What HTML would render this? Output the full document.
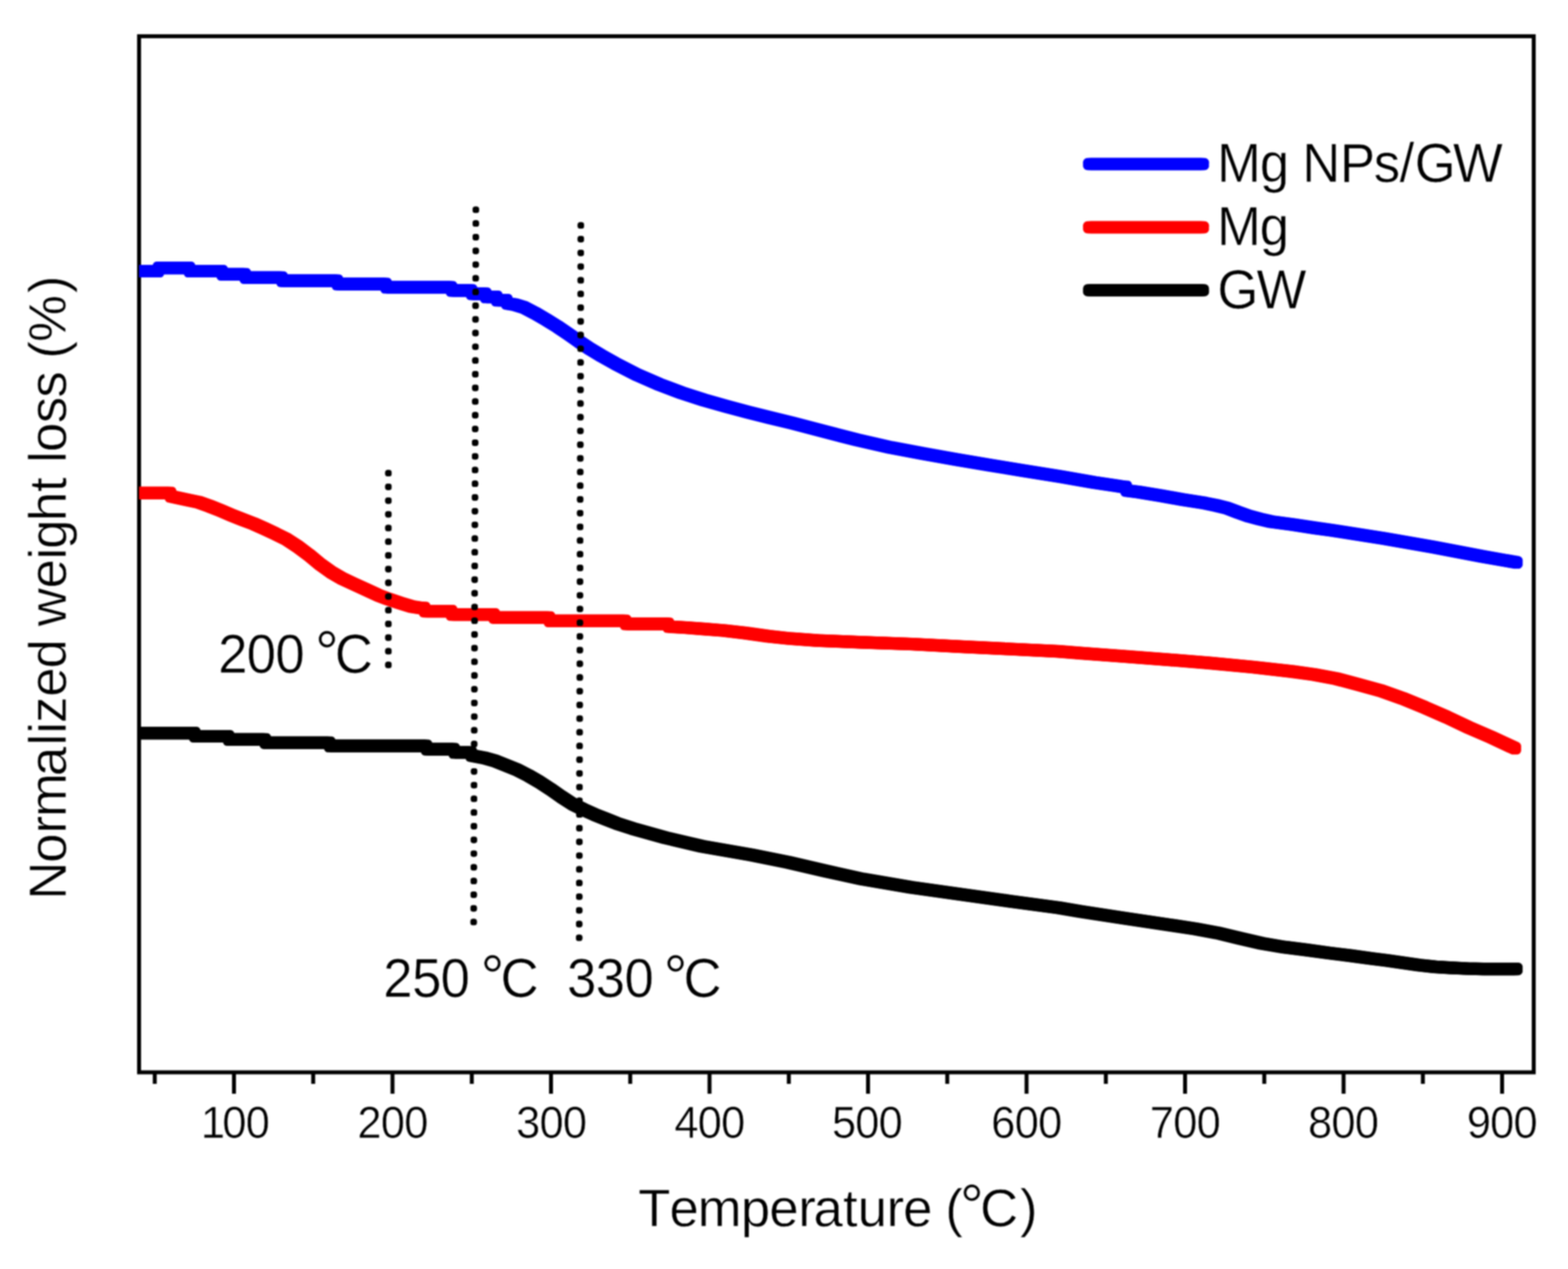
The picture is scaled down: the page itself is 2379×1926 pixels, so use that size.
<!DOCTYPE html>
<html lang="en">
<head>
<meta charset="utf-8">
<title>TGA curves: Mg NPs/GW, Mg, GW</title>
<style>
html,body{margin:0;padding:0;background:#fff;}
body{width:2379px;height:1926px;}
svg{display:block;filter:blur(0.8px);}
text{font-family:"Liberation Sans",Arial,Helvetica,sans-serif;fill:#000;font-kerning:none;stroke:#fff;stroke-width:0.7;paint-order:fill stroke;}
</style>
</head>
<body>
<svg width="2379" height="1926" viewBox="0 0 2379 1926">
<rect x="0" y="0" width="2379" height="1926" fill="#fff"/>

<g id="axes" stroke="#000" stroke-width="6" fill="none">
<rect x="211" y="55" width="2116" height="1572.5"/>
<line x1="234.8" y1="1627" x2="234.8" y2="1645"/>
<line x1="355.0" y1="1627" x2="355.0" y2="1660"/>
<line x1="475.2" y1="1627" x2="475.2" y2="1645"/>
<line x1="595.5" y1="1627" x2="595.5" y2="1660"/>
<line x1="715.8" y1="1627" x2="715.8" y2="1645"/>
<line x1="836.0" y1="1627" x2="836.0" y2="1660"/>
<line x1="956.2" y1="1627" x2="956.2" y2="1645"/>
<line x1="1076.5" y1="1627" x2="1076.5" y2="1660"/>
<line x1="1196.8" y1="1627" x2="1196.8" y2="1645"/>
<line x1="1317.0" y1="1627" x2="1317.0" y2="1660"/>
<line x1="1437.2" y1="1627" x2="1437.2" y2="1645"/>
<line x1="1557.5" y1="1627" x2="1557.5" y2="1660"/>
<line x1="1677.8" y1="1627" x2="1677.8" y2="1645"/>
<line x1="1798.0" y1="1627" x2="1798.0" y2="1660"/>
<line x1="1918.2" y1="1627" x2="1918.2" y2="1645"/>
<line x1="2038.5" y1="1627" x2="2038.5" y2="1660"/>
<line x1="2158.8" y1="1627" x2="2158.8" y2="1645"/>
<line x1="2279.0" y1="1627" x2="2279.0" y2="1660"/>
</g>
<defs>
<clipPath id="plot"><rect x="211" y="55" width="2116" height="1572"/></clipPath>
<polyline id="cB" points="205.0,411.5 239.6,411.5 241.1,406.6 286.9,406.6 288.4,411.5 336.4,411.5 337.9,416.4 371.4,416.4 372.9,421.3 427.2,421.3 428.8,426.2 511.2,426.2 512.8,431.1 585.1,431.1 586.6,436.0 684.4,436.0 685.9,440.9 714.9,440.9 716.4,445.8 736.4,445.8 737.9,450.7 753.1,450.7 754.6,455.6 768.2,455.6 769.8,460.5 782.0,462.6 795.1,466.6 811.8,475.3 828.6,485.1 845.4,495.5 862.2,506.9 879.0,518.7 895.8,529.9 912.6,540.0 933.6,551.8 967.2,569.0 1000.7,583.6 1034.3,596.2 1067.9,607.1 1101.5,616.7 1135.1,625.6 1168.6,634.0 1202.2,642.2 1250.0,654.7 1300.4,667.6 1350.7,679.1 1401.1,688.6 1451.5,697.5 1501.8,705.9 1552.2,714.2 1610.0,723.6 1660.0,732.2 1693.6,737.2 1706.0,739.2 1708.0,739.2 1709.5,744.5 1727.2,746.8 1760.7,752.3 1794.3,758.2 1827.9,763.6 1844.7,767.0 1861.5,771.1 1878.3,777.5 1895.1,783.4 1911.8,787.9 1928.6,791.8 1962.2,796.3 1995.8,801.4 2020.0,804.7 2099.7,817.2 2174.3,830.3 2249.0,844.5 2300.7,853.6"/>
<polyline id="cR" points="205.0,748.4 253.0,748.4 258.1,748.4 259.6,753.4 283.9,758.6 300.7,762.1 317.5,768.0 334.3,774.7 351.1,781.8 367.9,788.5 384.7,794.9 401.5,802.4 418.3,810.3 435.1,818.7 451.8,829.6 468.6,842.2 485.4,856.1 502.2,868.2 519.0,878.0 535.8,885.9 556.8,895.5 573.6,903.3 588.7,909.1 607.2,915.3 624.0,920.4 640.0,922.9 643.6,922.9 645.1,927.6 684.5,927.6 686.0,932.6 749.1,932.6 750.6,937.3 833.0,937.3 834.5,942.3 948.5,942.3 950.0,946.8 1013.5,946.8 1015.0,951.0 1040.0,952.5 1064.7,954.4 1098.3,957.0 1131.8,960.9 1165.4,965.6 1199.0,969.2 1240.0,972.1 1307.8,974.9 1382.4,977.5 1457.0,981.3 1531.6,985.0 1606.3,988.7 1640.0,991.3 1705.3,996.2 1770.6,1001.1 1835.9,1006.3 1901.2,1012.5 1960.0,1019.1 1993.6,1023.8 2027.2,1030.0 2060.7,1038.9 2094.3,1048.1 2127.9,1059.9 2161.5,1073.7 2195.1,1088.4 2228.6,1104.2 2262.2,1118.8 2298.3,1135.6"/>
<polyline id="cK" points="205.0,1112.6 294.8,1112.6 296.2,1117.5 346.2,1117.5 347.8,1122.4 401.8,1122.4 403.2,1127.3 499.6,1127.3 501.1,1132.2 646.5,1132.2 648.0,1137.1 688.5,1137.1 690.0,1142.0 714.2,1142.0 715.8,1146.8 734.3,1150.2 751.1,1154.9 767.9,1161.6 784.7,1168.3 801.5,1177.0 818.3,1186.8 835.1,1197.7 851.8,1209.4 868.6,1220.3 885.4,1228.7 902.2,1236.3 919.0,1243.0 935.8,1249.7 960.0,1257.6 1009.3,1271.4 1065.2,1284.5 1139.9,1297.5 1195.8,1308.7 1251.8,1321.8 1307.8,1334.1 1382.4,1346.8 1457.0,1357.2 1531.6,1367.7 1606.3,1377.8 1640.0,1383.4 1705.3,1393.6 1780.0,1404.6 1813.6,1409.7 1847.2,1415.9 1880.7,1424.0 1914.3,1431.8 1947.9,1437.4 1981.5,1441.6 2015.1,1446.2 2048.6,1450.4 2082.2,1455.0 2104.3,1457.8 2128.5,1461.2 2152.8,1464.7 2177.0,1467.4 2201.3,1468.8 2225.5,1470.0 2250.0,1470.6 2300.7,1470.6"/>
<path id="lg" d="M0 0H172.6"/>
<path id="g1" d="M589.3 718.2L589.3 1010"/>
<path id="g2" d="M722 318.4L718.6 1400.2"/>
<path id="g3" d="M881.3 342.2L878.7 1424"/>
</defs>
<g id="curves" clip-path="url(#plot)" fill="none" stroke-linecap="round" stroke-linejoin="round" stroke-width="13.2">
<g stroke="#0000ff"><use href="#cB" x="-3.00" y="-3.00"/><use href="#cB" x="3.00" y="-3.00"/><use href="#cB" x="-3.00" y="3.00"/><use href="#cB" x="3.00" y="3.00"/><use href="#cB" stroke-width="19.2"/></g>
<g stroke="#ff0000"><use href="#cR" x="-3.00" y="-3.00"/><use href="#cR" x="3.00" y="-3.00"/><use href="#cR" x="-3.00" y="3.00"/><use href="#cR" x="3.00" y="3.00"/><use href="#cR" stroke-width="19.2"/></g>
<g stroke="#000000"><use href="#cK" x="-3.00" y="-3.00"/><use href="#cK" x="3.00" y="-3.00"/><use href="#cK" x="-3.00" y="3.00"/><use href="#cK" x="3.00" y="3.00"/><use href="#cK" stroke-width="19.2"/></g>
</g>
<g id="guides" fill="none" stroke="#000" stroke-linecap="round" stroke-width="7.2" stroke-dasharray="0 20.79">
<use href="#g1" x="-1.30" y="-1.30"/><use href="#g1" x="1.30" y="-1.30"/><use href="#g1" x="-1.30" y="1.30"/><use href="#g1" x="1.30" y="1.30"/><use href="#g1" stroke-width="9.8"/>
<use href="#g2" x="-1.30" y="-1.30"/><use href="#g2" x="1.30" y="-1.30"/><use href="#g2" x="-1.30" y="1.30"/><use href="#g2" x="1.30" y="1.30"/><use href="#g2" stroke-width="9.8"/>
<use href="#g3" x="-1.30" y="-1.30"/><use href="#g3" x="1.30" y="-1.30"/><use href="#g3" x="-1.30" y="1.30"/><use href="#g3" x="1.30" y="1.30"/><use href="#g3" stroke-width="9.8"/>
</g>
<g id="titles">
<text font-size="80" transform="translate(0 1861.3)" y="0"><tspan x="968.3 1015.7 1058.6 1124.1 1167.3 1211.3 1234.3 1279.0 1301.3 1345.3 1370.3 1414.8 1434.3">Temperature (</tspan><tspan font-size="90" x="1456.4" dy="-0.7">°</tspan><tspan x="1486.9 1547.5" dy="0.7">C)</tspan></text>
<text font-size="80" transform="translate(99.7 0) rotate(-90)" x="-1365.5 -1309.6 -1264.9 -1239.9 -1178.0 -1131.6 -1113.5 -1097.2 -1057.6 -1014.6 -970.1 -950.4 -893.1 -849.3 -833.1 -790.9 -746.7 -724.4 -702.4 -686.0 -642.3 -603.6 -563.6 -544.2 -518.9 -444.9" y="0">Normalized weight loss (%)</text>
</g>
<g id="legend">
<g transform="translate(1652.5 249)" fill="none" stroke="#0000ff" stroke-linecap="round" stroke-width="13.2"><use href="#lg" x="-2.70" y="-2.70"/><use href="#lg" x="2.70" y="-2.70"/><use href="#lg" x="-2.70" y="2.70"/><use href="#lg" x="2.70" y="2.70"/><use href="#lg" stroke-width="18.6"/></g>
<text font-size="80" transform="translate(0 276.2) scale(1 1.035)" x="1846.6 1911.5 1955.9 1975.7 2032.9 2084.3 2123.5 2146.5 2204.5" y="0">Mg NPs/GW</text>
<g transform="translate(1652.5 345)" fill="none" stroke="#ff0000" stroke-linecap="round" stroke-width="13.2"><use href="#lg" x="-2.70" y="-2.70"/><use href="#lg" x="2.70" y="-2.70"/><use href="#lg" x="-2.70" y="2.70"/><use href="#lg" x="2.70" y="2.70"/><use href="#lg" stroke-width="18.6"/></g>
<text font-size="80" transform="translate(0 372.2) scale(1 1.035)" x="1846.6 1911.3" y="0">Mg</text>
<g transform="translate(1652.5 440.5)" fill="none" stroke="#000000" stroke-linecap="round" stroke-width="13.2"><use href="#lg" x="-2.70" y="-2.70"/><use href="#lg" x="2.70" y="-2.70"/><use href="#lg" x="-2.70" y="2.70"/><use href="#lg" x="2.70" y="2.70"/><use href="#lg" stroke-width="18.6"/></g>
<text font-size="80" transform="translate(0 467.9) scale(1 1.035)" x="1846.9 1906.6" y="0">GW</text>
</g>
<g id="ticklabels">
<text font-size="66" transform="translate(0 1727.3) scale(1 1.035)" x="304.8 337.2 372.7" y="0">100</text>
<text font-size="66" transform="translate(0 1727.3) scale(1 1.035)" x="542.3 577.8 613.3" y="0">200</text>
<text font-size="66" transform="translate(0 1727.3) scale(1 1.035)" x="783.1 818.4 853.9" y="0">300</text>
<text font-size="66" transform="translate(0 1727.3) scale(1 1.035)" x="1023.2 1058.4 1093.9" y="0">400</text>
<text font-size="66" transform="translate(0 1727.3) scale(1 1.035)" x="1262.2 1297.6 1333.1" y="0">500</text>
<text font-size="66" transform="translate(0 1727.3) scale(1 1.035)" x="1503.7 1539.4 1574.9" y="0">600</text>
<text font-size="66" transform="translate(0 1727.3) scale(1 1.035)" x="1744.4 1779.9 1815.4" y="0">700</text>
<text font-size="66" transform="translate(0 1727.3) scale(1 1.035)" x="1984.4 2019.9 2055.4" y="0">800</text>
<text font-size="66" transform="translate(0 1727.3) scale(1 1.035)" x="2225.4 2260.8 2296.3" y="0">900</text>
</g>
<g id="annotations">
<text font-size="80" transform="translate(0 1020.6) scale(1 1.035)" y="0"><tspan x="331.0 374.2 417.7 462.2">200 </tspan><tspan font-size="90" x="478.1" dy="1.0">°</tspan><tspan x="508.0" dy="-1.0">C</tspan></text>
<text font-size="80" transform="translate(0 1512.7) scale(1 1.035)" y="0"><tspan x="581.5 625.3 668.6 713.1">250 </tspan><tspan font-size="90" x="729.3" dy="1.0">°</tspan><tspan x="759.5" dy="-1.0">C</tspan></text>
<text font-size="80" transform="translate(0 1512.7) scale(1 1.035)" y="0"><tspan x="860.3 903.7 947.5 991.9">330 </tspan><tspan font-size="90" x="1007.0" dy="1.0">°</tspan><tspan x="1037.1" dy="-1.0">C</tspan></text>
</g>
</svg>
</body>
</html>
